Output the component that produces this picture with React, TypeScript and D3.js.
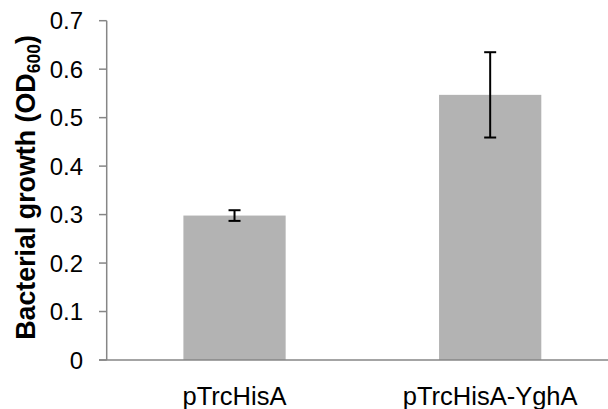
import React from "react";
import * as d3 from "d3";

const categories = ["pTrcHisA", "pTrcHisA-YghA"];
const values = [0.298, 0.547];
const errors = [0.011, 0.088];
const yTicks = [0, 0.1, 0.2, 0.3, 0.4, 0.5, 0.6, 0.7];
const yTickLabels = ["0", "0.1", "0.2", "0.3", "0.4", "0.5", "0.6", "0.7"];

export default function App() {
  const W = 608, H = 409;
  const left = 106.7, right = 618, top = 20.7, bottom = 360;
  const y = d3.scaleLinear().domain([0, 0.7]).range([bottom, top]);
  const x = d3.scaleBand<string>().domain(categories).range([left, right]).paddingInner(0.6).paddingOuter(0.3);
  const axisColor = "#868686";
  const font = "'Liberation Sans', Arial, sans-serif";
  return (
    <svg width={W} height={H} style={{ position: "absolute", left: 0, top: 0, background: "#fff" }} fontFamily={font}>
      {categories.map((c, i) => (
        <rect key={c} x={x(c)!} y={y(values[i])} width={x.bandwidth()} height={bottom - y(values[i])} fill="#b3b3b3" />
      ))}
      <line x1={left} x2={left} y1={top} y2={bottom} stroke={axisColor} strokeWidth={1.5} />
      <line x1={99} x2={right} y1={bottom} y2={bottom} stroke={axisColor} strokeWidth={1.5} />
      {yTicks.map((t, i) => (
        <g key={t}>
          <line x1={99} x2={left} y1={y(t)} y2={y(t)} stroke={axisColor} strokeWidth={1.5} />
          <text x={83} y={y(t)} dy="0.355em" textAnchor="end" fontSize={24} fill="#000">{yTickLabels[i]}</text>
        </g>
      ))}
      {categories.map((c, i) => {
        const cx = x(c)! + x.bandwidth() / 2;
        const y1 = y(values[i] + errors[i]);
        const y2 = y(values[i] - errors[i]);
        return (
          <g key={c + "e"} stroke="#000" strokeWidth={2}>
            <line x1={cx} x2={cx} y1={y1} y2={y2} />
            <line x1={cx - 6} x2={cx + 6} y1={y1} y2={y1} />
            <line x1={cx - 6} x2={cx + 6} y1={y2} y2={y2} />
          </g>
        );
      })}
      {categories.map((c) => (
        <text key={c + "l"} x={x(c)! + x.bandwidth() / 2} y={405} textAnchor="middle" fontSize={25.5} fill="#000">{c}</text>
      ))}
      <text transform={`translate(35,187.5) rotate(-90)`} textAnchor="middle" fontSize={26.8} fontWeight="bold" fill="#000">
        Bacterial growth (OD<tspan fontSize={17.5} dy={5}>600</tspan><tspan dy={-5}>)</tspan>
      </text>
    </svg>
  );
}
